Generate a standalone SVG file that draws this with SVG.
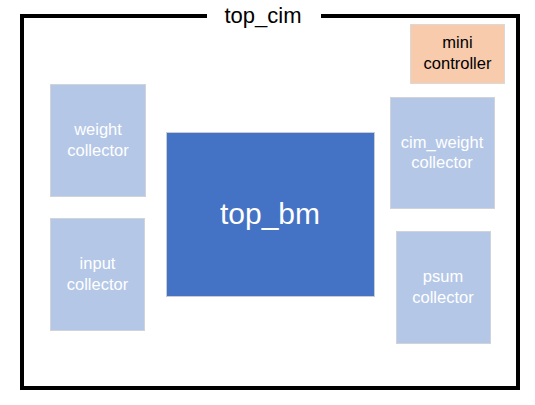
<svg xmlns="http://www.w3.org/2000/svg" width="535" height="405" viewBox="0 0 535 405">
<style>
.frame{fill:none;stroke:#000;stroke-width:4}
.sub{fill:#B4C7E7;stroke:#D0D3D8;stroke-width:1}
.main{fill:#4472C4;stroke:#C9CDD3;stroke-width:1}
.ctl{fill:#F8CBAD;stroke:#D9D9D9;stroke-width:1}
text{font-family:"Liberation Sans",Arial,sans-serif;text-anchor:middle}
.w{fill:#fff;font-size:16.5px}
.k{fill:#000;font-size:16.5px}
</style>
<rect width="535" height="405" fill="#fff"/>
<g id="top_cim">
<path class="frame" d="M207,16 H22 V388 H518 V16 H321"/>
<text x="263" y="23" style="font-size:22px;fill:#000">top_cim</text>
</g>
<g id="mini_controller">
<rect class="ctl" x="410.5" y="24.5" width="94" height="59"/>
<text class="k" x="457.5" y="48">mini</text>
<text class="k" x="457.5" y="69">controller</text>
</g>
<g id="weight_collector">
<rect class="sub" x="50.5" y="84.5" width="95" height="112"/>
<text class="w" x="98" y="135">weight</text>
<text class="w" x="98" y="156">collector</text>
</g>
<g id="input_collector">
<rect class="sub" x="50.5" y="218.5" width="94" height="112"/>
<text class="w" x="97.5" y="269">input</text>
<text class="w" x="97.5" y="290">collector</text>
</g>
<g id="top_bm">
<rect class="main" x="166.5" y="132.5" width="208" height="164"/>
<text x="270" y="224" style="font-size:30px;fill:#fff">top_bm</text>
</g>
<g id="cim_weight_collector">
<rect class="sub" x="390.5" y="97.5" width="104" height="111"/>
<text class="w" x="442" y="148">cim_weight</text>
<text class="w" x="442" y="168">collector</text>
</g>
<g id="psum_collector">
<rect class="sub" x="396.5" y="231.5" width="94" height="112"/>
<text class="w" x="443" y="282">psum</text>
<text class="w" x="443" y="303">collector</text>
</g>
<g id="connectors"></g>
</svg>
